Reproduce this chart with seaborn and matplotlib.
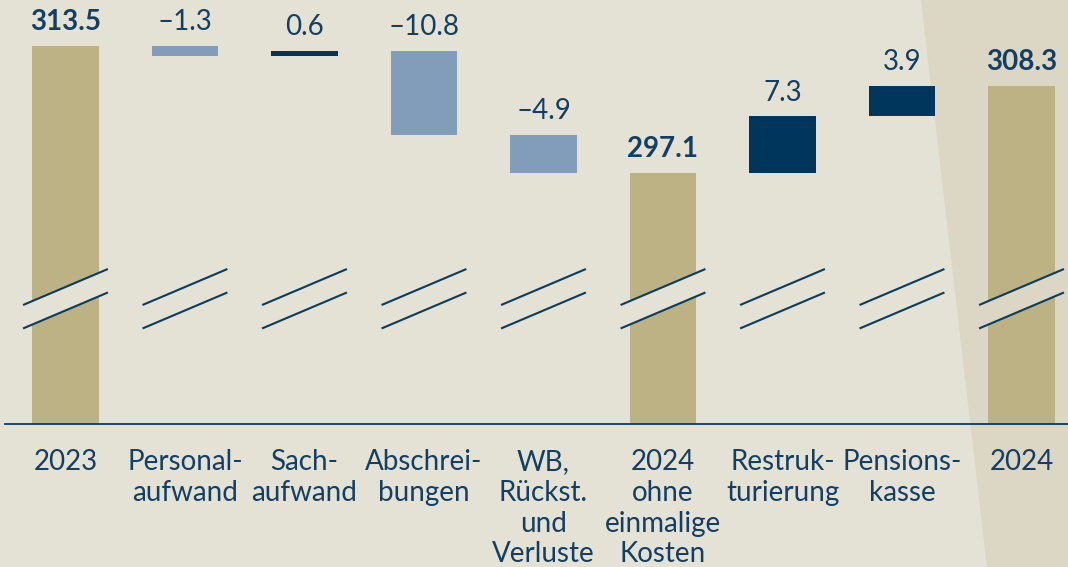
import matplotlib
matplotlib.use("Agg")
import matplotlib.pyplot as plt
import numpy as np
import pandas as pd
import seaborn as sns
from matplotlib.patches import Polygon

BG = "#E4E2D5"
BG_RIGHT = "#DCD6C4"
TOTAL_COLOR = "#BCB283"
NEG_COLOR = "#829DB9"
POS_COLOR = "#00365C"
TEXT_COLOR = "#123F63"
LINE_COLOR = "#0B3C5D"

categories = ["2023", "Personal-\naufwand", "Sach-\naufwand", "Abschrei-\nbungen",
              "WB,\nRückst.\nund\nVerluste", "2024\nohne\neinmalige\nKosten",
              "Restruk-\nturierung", "Pensions-\nkasse", "2024"]
values = [313.5, -1.3, 0.6, -10.8, -4.9, 297.1, 7.3, 3.9, 308.3]
is_total = [True, False, False, False, False, True, False, False, True]
value_labels = ["313.5", "–1.3", "0.6", "–10.8", "–4.9", "297.1", "7.3", "3.9", "308.3"]

# broken axis: visible value range
Y_MIN, Y_MAX = 264.69, 319.44
BREAK_LEVELS = [279.35, 282.38]


def build_frame() -> pd.DataFrame:
    rows = []
    running = 0.0
    for cat, val, tot in zip(categories, values, is_total):
        if tot:
            running = val
            rows.append((cat, 0.0, val, val, "total"))
        else:
            start, end = running, running + val
            running = end
            rows.append((cat, min(start, end), abs(val), max(start, end),
                         "neg" if val < 0 else "pos"))
    return pd.DataFrame(rows, columns=["cat", "bottom", "height", "top", "kind"])


df = build_frame()

sns.set_theme(style="white")
plt.rcParams["font.family"] = ["Lato", "DejaVu Sans"]

fig = plt.figure(figsize=(10.68, 5.67), dpi=100, facecolor=BG)
fig.patches.append(Polygon([(921 / 1068, 1), (1, 1), (1, 0), (987 / 1068, 0)],
                           closed=True, transform=fig.transFigure,
                           facecolor=BG_RIGHT, edgecolor="none", zorder=-1))
ax = fig.add_axes([5 / 1068, 143 / 567, 1063 / 1068, 424 / 567])
ax.set_facecolor("none")

for kind, color in [("total", TOTAL_COLOR), ("neg", NEG_COLOR), ("pos", POS_COLOR)]:
    sub = df[df["kind"] == kind]
    sns.barplot(data=sub, x="cat", y="height", order=categories, color=color,
                saturation=1, width=0.56, errorbar=None, bottom=sub["bottom"].to_numpy(),
                linewidth=0, ax=ax)

for i, row in df.iterrows():
    ax.annotate(value_labels[i], (i, row["top"]), xytext=(0, 11.5),
                textcoords="offset points", ha="center", va="baseline",
                fontsize=20, color=TEXT_COLOR,
                fontweight="bold" if row["kind"] == "total" else "normal")

# axis break marks
half_w, half_rise = 0.355, 2.324
for i, row in df.iterrows():
    lo, hi = BREAK_LEVELS
    if row["kind"] == "total":
        fill = BG_RIGHT if i == len(df) - 1 else BG
        ax.fill([i - half_w, i + half_w, i + half_w, i - half_w],
                [lo - half_rise, lo + half_rise, hi + half_rise, hi - half_rise],
                color=fill, zorder=3, linewidth=0)
    for lvl in BREAK_LEVELS:
        ax.plot([i - half_w, i + half_w], [lvl - half_rise, lvl + half_rise],
                color=LINE_COLOR, lw=1.5, zorder=4, solid_capstyle="butt")

ax.set_xlim(-0.506, 8.389)
ax.set_ylim(Y_MIN, Y_MAX)
ax.set_xlabel("")
ax.set_ylabel("")
ax.set_yticks([])
ax.set_xticks(range(len(categories)))
ax.set_xticklabels(categories, fontsize=20, color=TEXT_COLOR, linespacing=1.23)
ax.tick_params(axis="x", length=0, pad=18)
for side in ["top", "left", "right"]:
    ax.spines[side].set_visible(False)
ax.spines["bottom"].set_color(LINE_COLOR)
ax.spines["bottom"].set_linewidth(1.3)

fig.savefig("out.png", dpi=100, facecolor=BG)
